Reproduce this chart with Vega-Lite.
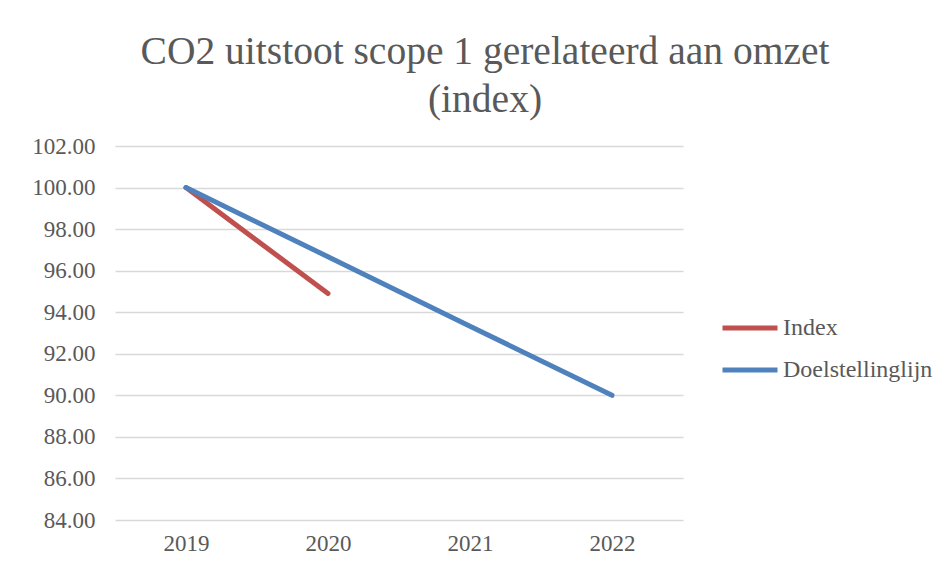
{
  "$schema": "https://vega.github.io/schema/vega-lite/v6.json",
  "width": 568,
  "height": 374,
  "autosize": {"type": "none"},
  "padding": {"left": 115, "top": 146, "right": 269, "bottom": 59},
  "background": "white",
  "title": {
    "text": ["CO2 uitstoot scope 1 gerelateerd aan omzet", "(index)"],
    "anchor": "middle",
    "frame": "group",
    "dx": 86,
    "dy": 15,
    "font": "Liberation Serif",
    "fontSize": 39.5,
    "fontWeight": "normal",
    "color": "#595959",
    "lineHeight": 48,
    "offset": 30
  },
  "data": {
    "values": [
      {"year": "2019", "series": "Index", "value": 100},
      {"year": "2020", "series": "Index", "value": 94.9},
      {"year": "2019", "series": "Doelstellinglijn", "value": 100},
      {"year": "2020", "series": "Doelstellinglijn", "value": 96.67},
      {"year": "2021", "series": "Doelstellinglijn", "value": 93.33},
      {"year": "2022", "series": "Doelstellinglijn", "value": 90}
    ]
  },
  "mark": {"type": "line", "strokeWidth": 5, "strokeCap": "round", "strokeJoin": "round"},
  "encoding": {
    "x": {
      "field": "year",
      "type": "ordinal",
      "scale": {"domain": ["2019", "2020", "2021", "2022"], "type": "point", "padding": 0.5},
      "axis": {
        "title": null,
        "labelAngle": 0,
        "domain": false,
        "ticks": false,
        "labelPadding": 12,
        "labelFont": "Liberation Serif",
        "labelFontSize": 23,
        "labelColor": "#595959"
      }
    },
    "y": {
      "field": "value",
      "type": "quantitative",
      "scale": {"domain": [84, 102], "nice": false, "zero": false},
      "axis": {
        "title": null,
        "values": [84, 86, 88, 90, 92, 94, 96, 98, 100, 102],
        "format": ".2f",
        "domain": false,
        "ticks": false,
        "labelPadding": 20,
        "gridColor": "#D9D9D9",
        "gridWidth": 1.5,
        "labelFont": "Liberation Serif",
        "labelFontSize": 23,
        "labelColor": "#595959"
      }
    },
    "color": {
      "field": "series",
      "type": "nominal",
      "sort": ["Index", "Doelstellinglijn"],
      "scale": {"domain": ["Index", "Doelstellinglijn"], "range": ["#C0504D", "#4F81BD"]},
      "legend": {
        "title": null,
        "orient": "none",
        "legendX": 605,
        "legendY": 152,
        "symbolType": "stroke",
        "symbolSize": 3025,
        "symbolStrokeWidth": 5,
        "rowPadding": -12,
        "labelOffset": 3,
        "labelFont": "Liberation Serif",
        "labelFontSize": 24,
        "labelColor": "#595959",
        "labelLimit": 300
      }
    }
  },
  "config": {
    "font": "Liberation Serif",
    "view": {"stroke": null},
    "style": {"guide-label": {"font": "Liberation Serif", "fontSize": 23, "fill": "#595959"}}
  }
}
